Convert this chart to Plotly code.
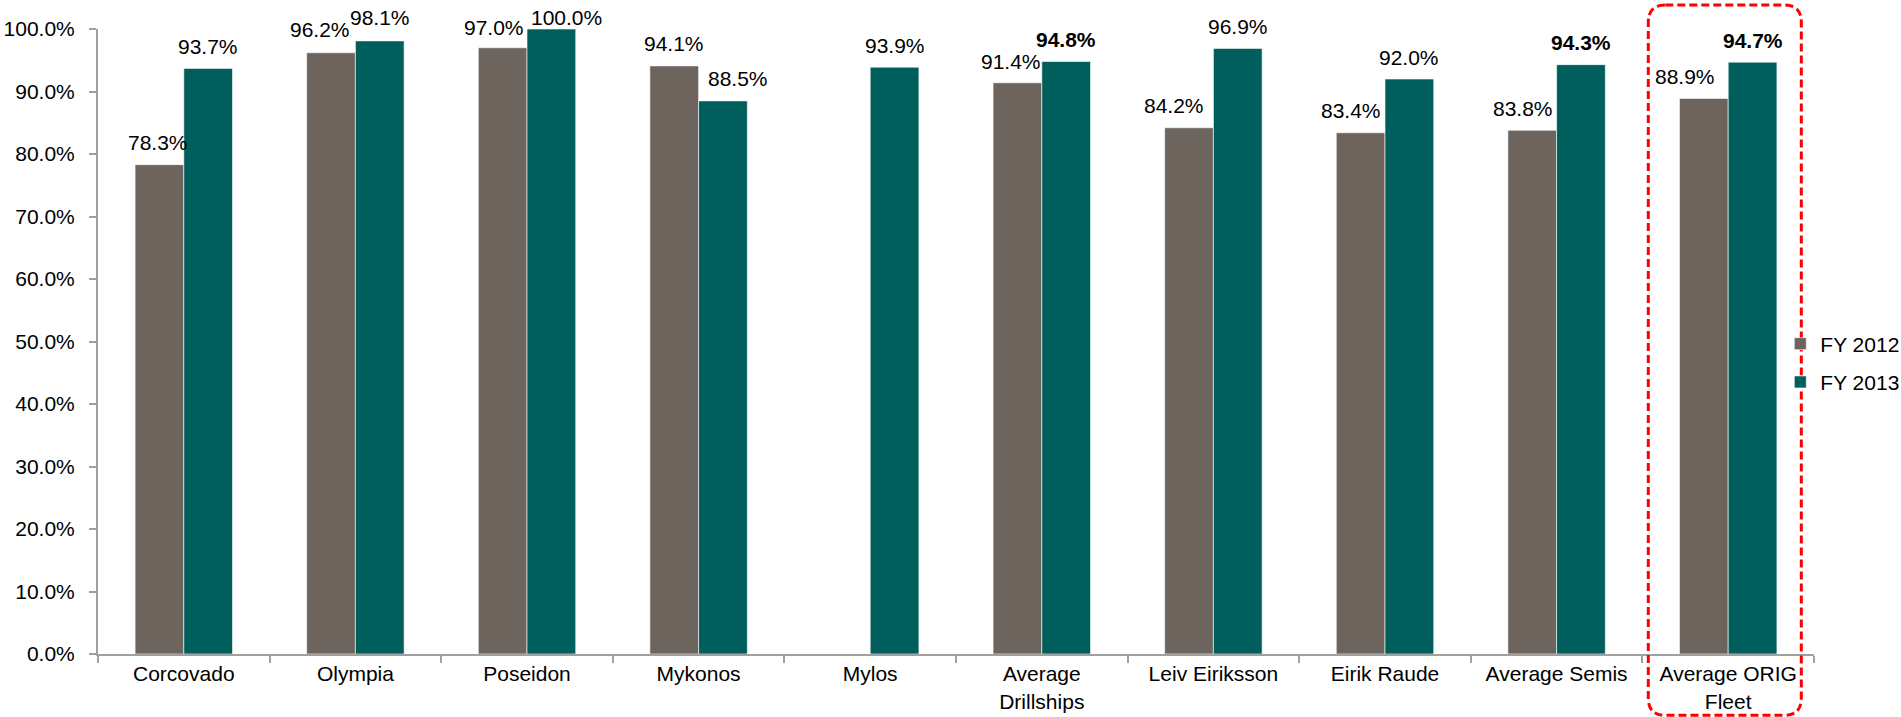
import plotly.graph_objects as go

categories = ["Corcovado", "Olympia", "Poseidon", "Mykonos", "Mylos",
              "Average<br>Drillships", "Leiv Eiriksson", "Eirik Raude",
              "Average Semis", "Average ORIG<br>Fleet"]
fy2012 = [0.783, 0.962, 0.970, 0.941, None, 0.914, 0.842, 0.834, 0.838, 0.889]
fy2013 = [0.937, 0.981, 1.000, 0.885, 0.939, 0.948, 0.969, 0.920, 0.943, 0.947]
bold2013 = [False, False, False, False, False, True, False, False, True, True]
series_names = ["FY 2012", "FY 2013"]

# styling (label nudges in px, not data)
shift2012 = [-1, -11, -9, 0, 0, -6, -15, -10, -9, -19]
shift2013 = [0, 0, 15, 15, 0, 0, 0, 0, 0, 0]
lift2012 = [22, 23, 20, 22, 22, 21, 22, 22, 22, 22]
lift2013 = [22, 23, 12, 22, 22, 22, 22, 22, 22, 22]

GRAY = "#6D645E"
TEAL = "#005F5C"
FONT = "Liberation Sans, Arial, sans-serif"
FS = 21

W, H = 1901, 717
L, R, T, B = 97.7, 1901 - 1813.7, 28.7, 717 - 654.3
pw, ph = W - L - R, H - T - B

fig = go.Figure()
for name, vals, col, grp in [(series_names[0], fy2012, GRAY, "a"),
                             (series_names[1], fy2013, TEAL, "b")]:
    fig.add_trace(go.Bar(x=categories, y=vals, name=name, marker_color=col,
                         marker_line=dict(color="rgba(255,255,255,0.6)", width=1),
                         legendgroup=grp))

barw_cat = (1 - 0.432) / 2
annotations = []
for i, c in enumerate(categories):
    for vals, sh, lift, off, bold in [(fy2012, shift2012, lift2012, -barw_cat / 2, [False] * 10),
                                      (fy2013, shift2013, lift2013, barw_cat / 2, bold2013)]:
        v = vals[i]
        if v is None:
            continue
        txt = f"{v*100:.1f}%"
        if bold[i]:
            txt = f"<b>{txt}</b>"
        annotations.append(dict(x=i + off, y=v, xref="x", yref="y", text=txt,
                                showarrow=False, xanchor="center", yanchor="middle",
                                yshift=lift[i], xshift=sh[i],
                                font=dict(family=FONT, size=FS, color="#000000")))

# red dashed rounded box around the last category (decoration)
x0p, x1p = 1648, 1801
y0p, y1p = 4.7, 715.7
r = 17
def px(xp):
    return (xp - L) / pw
def py(yp):
    return (H - B - yp) / ph
path = (f"M {px(x0p + r)} {py(y0p)} L {px(x1p - r)} {py(y0p)} "
        f"Q {px(x1p)} {py(y0p)} {px(x1p)} {py(y0p + r)} "
        f"L {px(x1p)} {py(y1p - r)} "
        f"Q {px(x1p)} {py(y1p)} {px(x1p - r)} {py(y1p)} "
        f"L {px(x0p + r)} {py(y1p)} "
        f"Q {px(x0p)} {py(y1p)} {px(x0p)} {py(y1p - r)} "
        f"L {px(x0p)} {py(y0p + r)} "
        f"Q {px(x0p)} {py(y0p)} {px(x0p + r)} {py(y0p)} Z")

fig.update_layout(
    width=W, height=H,
    margin=dict(l=L, r=R, t=T, b=B, pad=0, autoexpand=False),
    paper_bgcolor="white", plot_bgcolor="white",
    barmode="group", bargap=0.432, bargroupgap=0,
    font=dict(family=FONT, size=FS, color="#000000"),
    annotations=annotations,
    shapes=[dict(type="path", path=path, xref="paper", yref="paper",
                 line=dict(color="#FF0000", width=3, dash="8px,4px"),
                 fillcolor="rgba(0,0,0,0)", layer="above")],
    legend=dict(x=px(1780), xanchor="left", y=py(363), yanchor="middle",
                bgcolor="rgba(0,0,0,0)", font=dict(family=FONT, size=FS),
                traceorder="grouped", tracegroupgap=8),
    showlegend=True,
)
fig.update_xaxes(type="category", showline=True, linecolor="#A0A0A0", linewidth=2,
                 ticks="outside", tickson="boundaries", ticklen=7, tickcolor="#A0A0A0",
                 tickwidth=2, showgrid=False, tickfont=dict(family=FONT, size=FS),
                 range=[-0.5, 9.5], automargin=False, ticklabelstandoff=0)
fig.update_yaxes(range=[0, 1], dtick=0.1, tickformat=".1%", showline=True,
                 linecolor="#A0A0A0", linewidth=2, ticks="outside", ticklen=7,
                 tickcolor="#A0A0A0", tickwidth=2, showgrid=False, zeroline=False,
                 tickfont=dict(family=FONT, size=FS), ticklabelstandoff=10,
                 automargin=False)

fig.write_html("out.html")
